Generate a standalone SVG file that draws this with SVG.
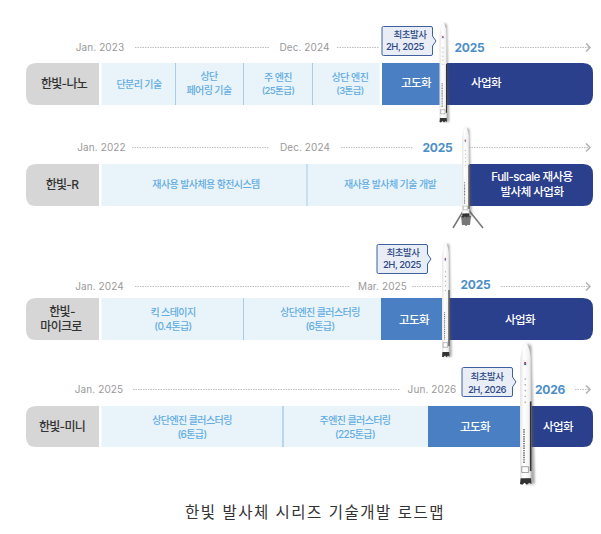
<svg xmlns="http://www.w3.org/2000/svg" width="601" height="534" viewBox="0 0 601 534">
<style>
text{font-family:"Inter","Noto Sans CJK KR","Noto Sans",sans-serif;text-anchor:middle}
.date{font-size:10px;fill:#9a9a9a;letter-spacing:.1px}
.year{font-size:12px;font-weight:700;fill:#4b8ec8;letter-spacing:-.2px}
.name{font-size:12px;font-weight:500;fill:#333;letter-spacing:-.7px}
.tech{font-size:10px;font-weight:500;fill:#62ade2;letter-spacing:-.6px}
.w{font-size:11.5px;font-weight:500;fill:#fff;letter-spacing:-.5px}
.call{font-size:9.5px;font-weight:500;fill:#2f4a85;letter-spacing:-.5px}
.gray{fill:#d6d6d6}.light{fill:#e9f3fa}.mid{fill:#4b7fc3}.dark{fill:#2b408c}
.div{stroke:#a9cde6;stroke-width:1}
.dot{stroke:#bdbdbd;stroke-width:1;stroke-dasharray:1.5 1;fill:none}
.bub{fill:#e8edf6;stroke:#3f5f9f;stroke-width:1}
</style>
<defs>
<marker id="arr" markerWidth="8" markerHeight="10" refX="5" refY="5" orient="auto" markerUnits="userSpaceOnUse"><path d="M1 1L5 5L1 9" fill="none" stroke="#b5b5b5" stroke-width="1.6"/></marker>
<filter id="sh" x="-100%" y="-5%" width="300%" height="110%"><feGaussianBlur stdDeviation="1.1"/></filter>
<linearGradient id="body" x1="0" x2="1" y1="0" y2="0"><stop offset="0" stop-color="#e4e4e4"/><stop offset=".35" stop-color="#fff"/><stop offset=".8" stop-color="#f2f2f2"/><stop offset="1" stop-color="#c4c4c4"/></linearGradient>
<g id="rocket">
<path d="M2 3C3 1 7 1 8 3L11 98H3Z" transform="translate(2 0)" fill="#555" opacity=".5" filter="url(#sh)"/>
<path d="M5 0C7 2 10 8 10 16V94H0V16C0 8 3 2 5 0Z" fill="url(#body)"/>
<rect x="8.600" y="41" width="1.400" height="48" fill="#333"/>
<rect x="2.800" y="13" width="3.400" height="3.500" fill="#fff" stroke="#ddd" stroke-width=".3"/>
<rect x="3.600" y="13.800" width="1.800" height="1" fill="#b0344e"/><rect x="3.600" y="14.800" width="1.800" height="1" fill="#2c4a8c"/>
<path d="M4.500 25V43" stroke="#888" stroke-width=".8" stroke-dasharray="1 3"/>
<path d="M3.500 60V84" stroke="#666" stroke-width="1.300" stroke-dasharray="1 .6"/>
<path d="M1.500 86H7.500V90H1.500Z" fill="none" stroke="#777" stroke-width=".5"/>
<path d="M.5 94H9.500L10 98L8 97L6 98.500L4 97L2 98.500L0 98Z" fill="#333"/>
</g>
</defs>

<g id="connectors">
<path class="dot" d="M135 47.500H269M337 47.500H379"/>
<path class="dot" d="M500 47.500H590" marker-end="url(#arr)"/>
<path class="dot" d="M132 147.500H269M341 147.500H413"/>
<path class="dot" d="M469 147.500H590" marker-end="url(#arr)"/>
<path class="dot" d="M135 286.500H350M412 286.500H443"/>
<path class="dot" d="M501 286.500H590" marker-end="url(#arr)"/>
<path class="dot" d="M133 389.500H400"/>
<path class="dot" d="M575 389.500H590" marker-end="url(#arr)"/>
</g>

<g id="row-nano">
<path class="gray" d="M36 63H99V105H36Q26 105 26 95V73Q26 63 36 63Z"/>
<text class="name" x="64" y="88">한빛-나노</text>
<rect class="light" x="101.500" y="63" width="278" height="42"/>
<path class="div" d="M175.500 63V105M243.500 63V105M312.500 63V105"/>
<text class="tech" x="139" y="88">단분리 기술</text>
<text class="tech" x="209" y="80">상단</text><text class="tech" x="209" y="94">페어링 기술</text>
<text class="tech" x="278" y="81">주 엔진</text><text class="tech" x="278" y="94" style="font-size:9.500px">(25톤급)</text>
<text class="tech" x="350" y="81">상단 엔진</text><text class="tech" x="350" y="94" style="font-size:9.500px">(3톤급)</text>
<rect class="mid" x="382" y="63" width="61" height="42"/>
<path class="dark" d="M441 63H583Q593 63 593 73V95Q593 105 583 105H441Z"/>
<text class="w" x="416" y="87">고도화</text>
<text class="w" x="486" y="87">사업화</text>
<text class="date" x="100" y="51">Jan. 2023</text>
<text class="date" x="304.500" y="51">Dec. 2024</text>
<text class="year" x="469.500" y="51.500">2025</text>
</g>

<g id="row-r">
<path class="gray" d="M36 164H99V206H36Q26 206 26 196V174Q26 164 36 164Z"/>
<text class="name" x="62" y="189">한빛-R</text>
<rect class="light" x="101.500" y="164" width="368" height="42"/>
<path class="div" d="M307 164V206"/>
<text class="tech" x="206" y="188">재사용 발사체용 항전시스템</text>
<text class="tech" x="390" y="188">재사용 발사체 기술 개발</text>
<path class="dark" d="M468 164H583Q593 164 593 174V196Q593 206 583 206H468Z"/>
<text class="w" x="532" y="181">Full-scale 재사용</text>
<text class="w" x="532" y="196">발사체 사업화</text>
<text class="date" x="101.500" y="151">Jan. 2022</text>
<text class="date" x="305" y="151">Dec. 2024</text>
<text class="year" x="437.500" y="152">2025</text>
</g>

<g id="row-micro">
<path class="gray" d="M36 298H99V340H36Q26 340 26 330V308Q26 298 36 298Z"/>
<text class="name" x="62" y="316">한빛-</text>
<text class="name" x="61" y="331">마이크로</text>
<rect class="light" x="101.500" y="298" width="280" height="42"/>
<path class="div" d="M243.500 298V340"/>
<text class="tech" x="173" y="316">킥 스테이지</text><text class="tech" x="173" y="330">(0.4톤급)</text>
<text class="tech" x="320" y="316">상단엔진 클러스터링</text><text class="tech" x="320" y="330">(6톤급)</text>
<rect class="mid" x="381" y="298" width="64" height="42"/>
<path class="dark" d="M443 298H583Q593 298 593 308V330Q593 340 583 340H443Z"/>
<text class="w" x="414" y="324">고도화</text>
<text class="w" x="520" y="324">사업화</text>
<text class="date" x="99.500" y="290">Jan. 2024</text>
<text class="date" x="382.500" y="290">Mar. 2025</text>
<text class="year" x="475.500" y="289">2025</text>
</g>

<g id="row-mini">
<path class="gray" d="M36 406H99V447H36Q26 447 26 437V416Q26 406 36 406Z"/>
<text class="name" x="62" y="431">한빛-미니</text>
<rect class="light" x="101.500" y="406" width="328" height="41"/>
<path class="div" d="M283 406V447" style="stroke-width:1.500"/>
<text class="tech" x="192" y="424">상단엔진 클러스터링</text><text class="tech" x="192" y="438">(6톤급)</text>
<text class="tech" x="355" y="424">주엔진 클러스터링</text><text class="tech" x="355" y="438">(225톤급)</text>
<rect class="mid" x="428" y="406" width="95" height="41"/>
<path class="dark" d="M521 406H583Q593 406 593 416V437Q593 447 583 447H521Z"/>
<text class="w" x="475" y="431">고도화</text>
<text class="w" x="558" y="431">사업화</text>
<text class="date" x="99" y="393">Jan. 2025</text>
<text class="date" x="432" y="393">Jun. 2026</text>
<text class="year" x="550" y="394">2026</text>
</g>

<g id="rocket-nano"><use href="#rocket" transform="translate(439.500 22) scale(.75 1.02)"/></g>
<g id="rocket-r">
<path d="M465 208L453 228M467 208L483 228M466 208V226" stroke="#777" stroke-width="1.500" fill="none"/>
<path d="M461 216H471L470 225H462Z" fill="#777"/>
<use href="#rocket" transform="translate(462 127) scale(.75 .92)"/>
</g>
<g id="rocket-micro"><use href="#rocket" transform="translate(442 242) scale(.75 1.17)"/></g>
<g id="rocket-mini"><use href="#rocket" transform="translate(520 342) scale(1.15 1.45)"/></g>

<g id="callout-nano">
<path class="bub" d="M383.500 26.500H431Q432.500 26.500 432.500 28V36L436 41L432.500 46V54Q432.500 55.500 431 55.500H383.500Q382 55.500 382 54V28Q382 26.500 383.500 26.500Z"/>
<text class="call" x="410" y="38">최초발사</text><text class="call" x="405" y="50">2H, 2025</text>
</g>
<g id="callout-micro">
<path class="bub" d="M378.500 244.500H426Q427.500 244.500 427.500 246V254L431 259L427.500 264V272Q427.500 273.500 426 273.500H378.500Q377 273.500 377 272V246Q377 244.500 378.500 244.500Z"/>
<text class="call" x="403" y="256">최초발사</text><text class="call" x="402" y="268">2H, 2025</text>
</g>
<g id="callout-mini">
<path class="bub" d="M463.500 367.500H511Q512.500 367.500 512.500 369V377L516 382L512.500 387V395Q512.500 396.500 511 396.500H463.500Q462 396.500 462 395V369Q462 367.500 463.500 367.500Z"/>
<text class="call" x="487" y="380">최초발사</text><text class="call" x="487" y="393">2H, 2026</text>
</g>

<text x="315" y="518" style="font-size:15.500px;fill:#333;letter-spacing:1.500px">한빛 발사체 시리즈 기술개발 로드맵</text>
</svg>
